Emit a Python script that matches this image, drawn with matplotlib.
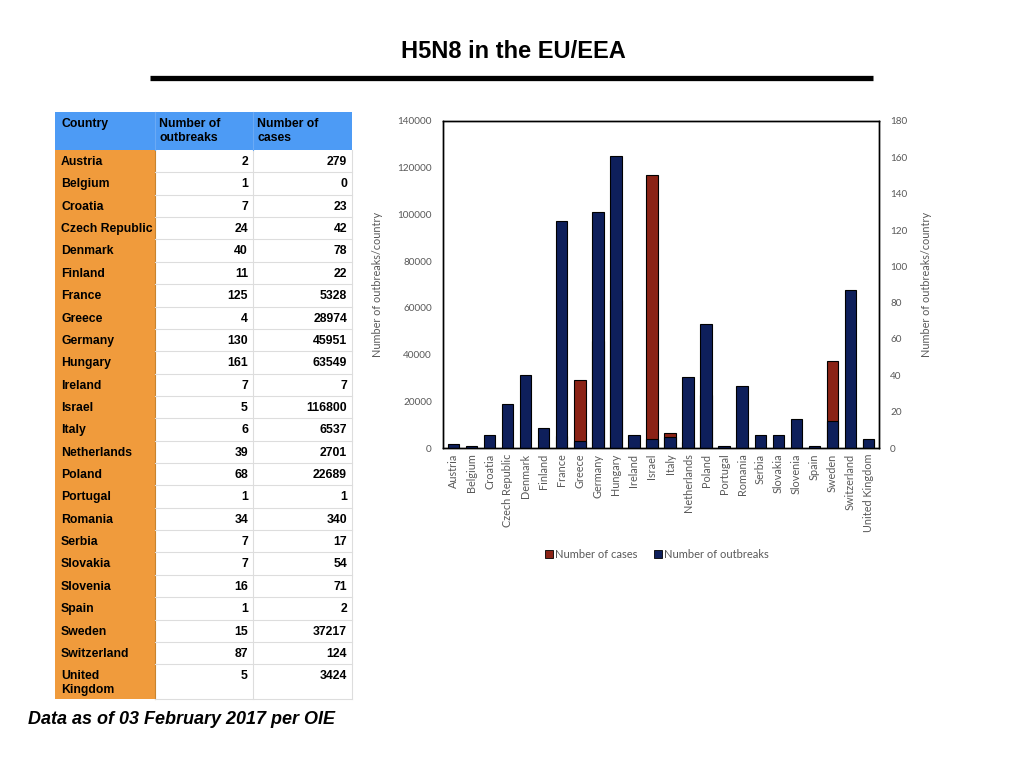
import matplotlib
matplotlib.use("Agg")
import matplotlib.pyplot as plt
from matplotlib.patches import Rectangle, Patch
import numpy as np

countries = ["Austria", "Belgium", "Croatia", "Czech Republic", "Denmark", "Finland",
             "France", "Greece", "Germany", "Hungary", "Ireland", "Israel", "Italy",
             "Netherlands", "Poland", "Portugal", "Romania", "Serbia", "Slovakia",
             "Slovenia", "Spain", "Sweden", "Switzerland", "United Kingdom"]
outbreaks = [2, 1, 7, 24, 40, 11, 125, 4, 130, 161, 7, 5, 6, 39, 68, 1, 34, 7, 7, 16, 1, 15, 87, 5]
cases = [279, 0, 23, 42, 78, 22, 5328, 28974, 45951, 63549, 7, 116800, 6537, 2701,
         22689, 1, 340, 17, 54, 71, 2, 37217, 124, 3424]
table_labels = ["Country", "Number of\noutbreaks", "Number of\ncases"]
table_countries = ["Austria", "Belgium", "Croatia", "Czech Republic", "Denmark", "Finland",
                   "France", "Greece", "Germany", "Hungary", "Ireland", "Israel", "Italy",
                   "Netherlands", "Poland", "Portugal", "Romania", "Serbia", "Slovakia",
                   "Slovenia", "Spain", "Sweden", "Switzerland", "United\nKingdom"]

RED = "#8B2316"
BLUE = "#0E1F5B"
HEAD = "#4D9BF5"
ORANGE = "#F09B3C"
GREY = "#595959"

fig = plt.figure(figsize=(10.24, 7.68), dpi=100)
fig.patch.set_facecolor("white")

# background overlay axes in pixel coordinates
bg = fig.add_axes([0, 0, 1, 1])
bg.set_xlim(0, 1024)
bg.set_ylim(768, 0)
bg.axis("off")

tfont = "Liberation Sans"
bg.text(513, 51, "H5N8 in the EU/EEA", ha="center", va="center", fontsize=17,
        fontweight="bold", family=tfont)
bg.plot([150, 873], [78, 78], color="black", lw=3.8, solid_capstyle="butt")
bg.text(28, 720, "Data as of 03 February 2017 per OIE", ha="left", va="center",
        fontsize=13, fontweight="bold", fontstyle="italic", family=tfont)

# table
x0, x1, x2, x3 = 55, 155, 253, 352
ytop, yhead = 112, 150
rh = 22.36
n = len(countries)
row_tops = [yhead + i * rh for i in range(n)]
yend = 699
bg.add_patch(Rectangle((x0, ytop), x3 - x0, yhead - ytop, facecolor=HEAD, edgecolor="none"))
bg.add_patch(Rectangle((x0, yhead), x1 - x0, yend - yhead, facecolor=ORANGE, edgecolor="none"))
bg.plot([x1, x1], [yhead, yend], color="#C8842F", lw=0.8)
bg.plot([x2, x2], [yhead, yend], color="#DDDDDD", lw=0.8)
bg.plot([x2, x2], [ytop, yhead], color="#6AAAF5", lw=0.8)
bg.plot([x1, x1], [ytop, yhead], color="#6AAAF5", lw=0.8)
for i in range(1, n):
    bg.plot([x1, x3], [row_tops[i], row_tops[i]], color="#DDDDDD", lw=0.8)
bg.plot([x1, x3], [yend, yend], color="#DDDDDD", lw=0.8)
bg.plot([x3, x3], [yhead, yend], color="#DDDDDD", lw=0.8)

fs = 8.8
for lab, xx in zip(table_labels, (x0 + 6, x1 + 4, x2 + 4)):
    bg.text(xx, ytop + 6, lab, ha="left", va="top", fontsize=fs,
            fontweight="bold", family=tfont, linespacing=1.2)
for i in range(n):
    yt = row_tops[i] + 6
    bg.text(x0 + 6, yt, table_countries[i], ha="left", va="top", fontsize=fs,
            fontweight="bold", family=tfont, linespacing=1.2)
    bg.text(x2 - 5, yt, str(outbreaks[i]), ha="right", va="top", fontsize=fs,
            fontweight="bold", family=tfont)
    bg.text(x3 - 5, yt, str(cases[i]), ha="right", va="top", fontsize=fs,
            fontweight="bold", family=tfont)

# chart
cfont = ["Lato", "DejaVu Sans"]
L, R, T, B = 443, 879, 121, 448
ax = fig.add_axes([L / 1024, 1 - B / 768, (R - L) / 1024, (B - T) / 768])
ax2 = ax.twinx()
x = np.arange(n)
w = 0.62
ax.bar(x, cases, width=w, color=RED, edgecolor="black", linewidth=0.8, zorder=2)
ax2.bar(x, outbreaks, width=w, color=BLUE, edgecolor="black", linewidth=0.8, zorder=2)
ax.set_ylim(0, 140000)
ax2.set_ylim(0, 180)
ax.set_xlim(-0.6, n - 0.4)
ax.set_yticks(np.arange(0, 140001, 20000))
ax2.set_yticks(np.arange(0, 181, 20))
ax.set_xticks(x)
ax.set_xticklabels(countries, rotation=90, fontsize=7.8, color=GREY, family=cfont)
for a in (ax, ax2):
    a.tick_params(axis="both", length=0, pad=8, labelsize=7.2, labelcolor=GREY)
    for lab in a.get_yticklabels():
        lab.set_family(cfont)
    for s in a.spines.values():
        s.set_color("black")
        s.set_linewidth(1.0)
ax.tick_params(axis="x", pad=4, labelsize=7.8)
ax.set_ylabel("Number of outbreaks/country", fontsize=7.8, color=GREY, family=cfont, labelpad=10)
ax2.set_ylabel("Number of outbreaks/country", fontsize=7.8, color=GREY, family=cfont, labelpad=10)

handles = [Patch(facecolor=RED, edgecolor="black", linewidth=0.6, label="Number of cases"),
           Patch(facecolor=BLUE, edgecolor="black", linewidth=0.6, label="Number of outbreaks")]
leg = fig.legend(handles=handles, loc="center", bbox_to_anchor=(657 / 1024, 1 - 554 / 768),
                 ncol=2, frameon=False, handlelength=0.7, handleheight=0.7,
                 handletextpad=0.2, columnspacing=1.5, prop={"family": cfont, "size": 8})
for t in leg.get_texts():
    t.set_color(GREY)

fig.savefig("out.png", dpi=100)
